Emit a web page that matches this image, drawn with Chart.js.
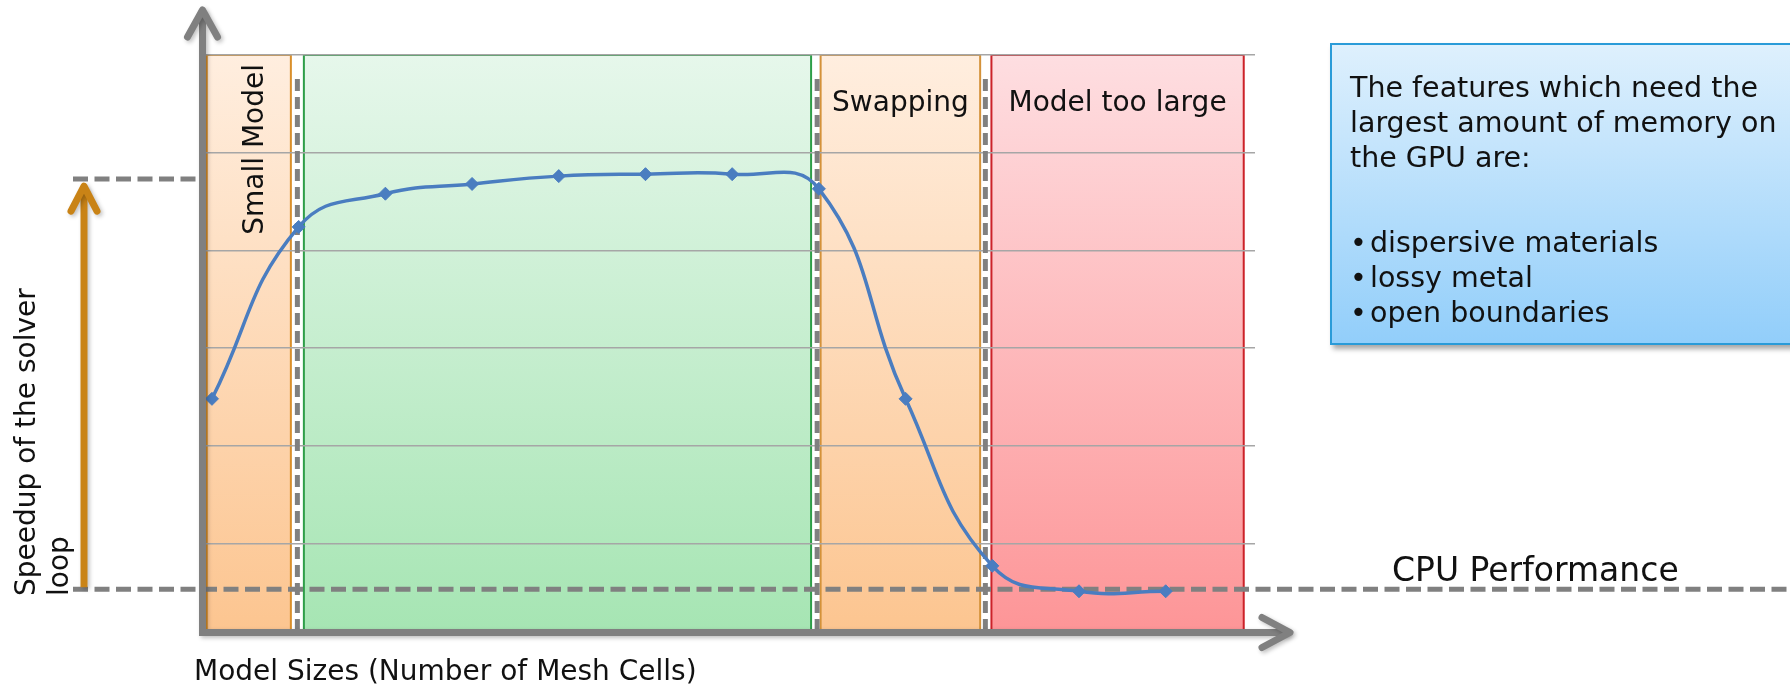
<!DOCTYPE html>
<html>
<head>
<meta charset="utf-8">
<script src="https://cdn.jsdelivr.net/npm/chart.js@4.4.1/dist/chart.umd.min.js"></script>
<style>
  html, body { margin: 0; padding: 0; background: #fff; overflow: hidden; }
  #wrap { position: relative; width: 1790px; height: 690px; }
  #note {
    position: absolute; left: 1330px; top: 43px; width: 520px; height: 273px;
    box-sizing: content-box; padding: 24.5px 0 0 18px;
    border: 2px solid #2a9bd8;
    background: linear-gradient(#def0fd, #92cefa);
    box-shadow: 3px 4px 5px rgba(0, 0, 0, 0.35);
    font: 28.5px "DejaVu Sans", sans-serif; line-height: 35.4px; color: #111;
    white-space: nowrap;
  }
  #note .list { margin-top: 48.8px; }
  #note .b { display: inline-block; width: 20px; }
</style>
</head>
<body>
<div id="wrap">
  <canvas id="chart" width="1790" height="690"></canvas>
  <div id="note">
    <div>The features which need the<br>largest amount of memory on<br>the GPU are:</div>
    <div class="list">
      <span class="b">•</span>dispersive materials<br>
      <span class="b">•</span>lossy metal<br>
      <span class="b">•</span>open boundaries
    </div>
  </div>
</div>
<script>
// model size steps (no tick labels in the original) and solver speedup
const modelSize = [0, 1, 2, 3, 4, 5, 6, 7, 8, 9, 10, 11];
const speedup = [2.48, 4.24, 4.58, 4.68, 4.76, 4.78, 4.78, 4.63, 2.48, 0.77, 0.51, 0.51];
const yTicks = [1, 2, 3, 4, 5, 6];

// memory regimes along the model size axis
const zoneNames = ["Small Model", "", "Swapping", "Model too large"];
const zoneFrom = [-0.06, 1.06, 7.02, 8.99];
const zoneTo = [0.91, 6.91, 8.86, 11.9];
const zoneDividers = [0.985, 6.98, 8.92];

const cpuLevel = 0.53;
const gpuLevel = 4.73;

const zoneTop = ["#ffeedf", "#e6f7eb", "#ffeedf", "#fedee1"];
const zoneBottom = ["#fcc590", "#a6e5b3", "#fcc590", "#fd9597"];
const zoneEdge = ["#d98f2b", "#2e9e48", "#d4923a", "#cc2229"];

const FONT = '"DejaVu Sans", sans-serif';

function dashLine(ctx, x1, y1, x2, y2, dash, width) {
  ctx.save();
  ctx.strokeStyle = "#808080";
  ctx.lineWidth = width;
  ctx.setLineDash(dash);
  ctx.beginPath();
  ctx.moveTo(x1, y1);
  ctx.lineTo(x2, y2);
  ctx.stroke();
  ctx.restore();
}

const decorations = {
  id: "decorations",
  beforeDraw(chart) {
    const { ctx, chartArea: a, scales: { x } } = chart;
    ctx.save();
    zoneFrom.forEach((from, i) => {
      const l = x.getPixelForValue(from);
      const r = x.getPixelForValue(zoneTo[i]);
      const g = ctx.createLinearGradient(0, a.top, 0, a.bottom);
      g.addColorStop(0, zoneTop[i]);
      g.addColorStop(1, zoneBottom[i]);
      ctx.fillStyle = g;
      ctx.fillRect(l, a.top, r - l, a.bottom - a.top);
      ctx.strokeStyle = zoneEdge[i];
      ctx.lineWidth = 2;
      ctx.beginPath();
      ctx.moveTo(l, a.bottom);
      ctx.lineTo(l, a.top);
      ctx.lineTo(r, a.top);
      ctx.lineTo(r, a.bottom);
      ctx.stroke();
    });
    ctx.restore();
  },
  beforeDatasetsDraw(chart) {
    const { ctx, chartArea: a, scales: { x, y } } = chart;
    zoneDividers.forEach(d => {
      const px = x.getPixelForValue(d);
      dashLine(ctx, px, a.top + 24, px, a.bottom, [12, 6], 5);
    });
    const cy = y.getPixelForValue(cpuLevel);
    dashLine(ctx, 73, cy, chart.width, cy, [15, 6.5], 5);
    const gy = y.getPixelForValue(gpuLevel);
    dashLine(ctx, 73, gy, a.left - 3, gy, [15, 6.5], 5);

    // zone labels
    ctx.save();
    ctx.fillStyle = "#111";
    ctx.font = "28px " + FONT;
    ctx.textBaseline = "alphabetic";
    zoneNames.forEach((name, i) => {
      if (!name) return;
      const xc = (x.getPixelForValue(zoneFrom[i]) + x.getPixelForValue(zoneTo[i])) / 2;
      if (i === 0) {
        ctx.save();
        ctx.translate(xc + 14, a.top + 9);
        ctx.rotate(-Math.PI / 2);
        ctx.textAlign = "right";
        ctx.fillText(name, 0, 0);
        ctx.restore();
      } else {
        ctx.textAlign = "center";
        ctx.fillText(name, xc, a.top + 56);
      }
    });
    ctx.restore();
  },
  afterDraw(chart) {
    const { ctx, chartArea: a, scales: { y } } = chart;
    ctx.save();
    ctx.shadowColor = "rgba(0,0,0,0.25)";
    ctx.shadowBlur = 4;
    ctx.shadowOffsetX = 2;
    ctx.shadowOffsetY = 2;

    // axes with open arrow heads
    const ox = a.left + 0.5, oy = a.bottom + 0.5;
    ctx.strokeStyle = "#808080";
    ctx.lineWidth = 7;
    ctx.lineJoin = "miter";
    ctx.beginPath();
    ctx.moveTo(ox, 11);
    ctx.lineTo(ox, oy);
    ctx.lineTo(1289, oy);
    ctx.stroke();
    ctx.lineCap = "round";
    ctx.lineJoin = "round";
    ctx.beginPath();
    ctx.moveTo(ox - 15, 37);
    ctx.lineTo(ox, 10);
    ctx.lineTo(ox + 15, 37);
    ctx.moveTo(1262, oy - 15);
    ctx.lineTo(1290, oy);
    ctx.lineTo(1262, oy + 15);
    ctx.stroke();

    // orange speedup arrow
    const cy = y.getPixelForValue(cpuLevel);
    const tip = y.getPixelForValue(gpuLevel) + 7;
    ctx.strokeStyle = "#c98316";
    ctx.lineCap = "butt";
    ctx.beginPath();
    ctx.moveTo(84, cy - 2);
    ctx.lineTo(84, tip + 2);
    ctx.stroke();
    ctx.lineCap = "round";
    ctx.beginPath();
    ctx.moveTo(71, tip + 25);
    ctx.lineTo(84, tip);
    ctx.lineTo(97, tip + 25);
    ctx.stroke();
    ctx.restore();

    // texts
    ctx.save();
    ctx.fillStyle = "#111";
    ctx.font = "28px " + FONT;
    ctx.textAlign = "left";
    ctx.fillText("Model Sizes (Number of Mesh Cells)", 194, 680);
    ctx.save();
    ctx.translate(35, 596);
    ctx.rotate(-Math.PI / 2);
    ctx.fillText("Speedup of the solver", 0, 0);
    ctx.fillText("loop", 0, 33);
    ctx.restore();
    ctx.font = "33px " + FONT;
    ctx.fillText("CPU Performance", 1392, 581);
    ctx.restore();
  }
};

new Chart(document.getElementById("chart"), {
  type: "line",
  data: {
    datasets: [{
      data: modelSize.map((m, i) => ({ x: m, y: speedup[i] })),
      borderColor: "#4a7dc0",
      backgroundColor: "#4a7dc0",
      borderWidth: 3.5,
      tension: 0.45,
      pointStyle: "rectRot",
      pointRadius: 6.5,
      pointBorderWidth: 1
    }]
  },
  options: {
    responsive: false,
    animation: false,
    layout: { padding: { left: 202, right: 535, top: 55, bottom: 58 } },
    plugins: { legend: { display: false }, tooltip: { enabled: false } },
    scales: {
      x: { type: "linear", min: -0.115, max: 12.03, display: false },
      y: {
        type: "linear",
        min: 0.093,
        max: 6,
        afterBuildTicks: s => { s.ticks = yTicks.map(v => ({ value: v })); },
        ticks: { display: false },
        border: { display: false },
        grid: { color: "#a6a6a6", lineWidth: 1.5, drawTicks: false }
      }
    }
  },
  plugins: [decorations]
});
</script>
</body>
</html>
